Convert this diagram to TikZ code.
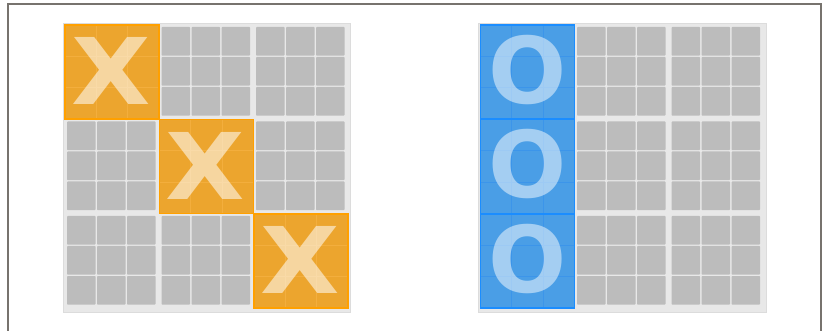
\documentclass[tikz,border=0pt]{standalone}
\usepackage{fontspec}
\newfontfamily\letterfont{DejaVu Sans}[BoldFont={DejaVu Sans Bold}]
\usetikzlibrary{positioning}
\definecolor{FrameGrey}{HTML}{77736E}
\definecolor{BoardBg}{HTML}{E8E8E8}
\definecolor{BoardEdge}{HTML}{DCDCDC}
\definecolor{CellGrey}{HTML}{BCBCBC}
\definecolor{OrangeFill}{HTML}{ECA52E}
\definecolor{OrangeLine}{HTML}{F3AE3D}
\definecolor{OrangeEdge}{HTML}{FFA000}
\definecolor{BlueFill}{HTML}{4A9EE6}
\definecolor{BlueLine}{HTML}{3C95EA}
\definecolor{BlueEdge}{HTML}{1B8DFF}

\tikzset{
  board/.style={fill=BoardBg,draw=BoardEdge,line width=1},
  greycell/.style={fill=CellGrey,rounded corners=0.8},
  letter/.style={inner sep=0pt,text opacity=0.55,text=white,
    font=\letterfont\bfseries\fontsize{92}{92}\selectfont}
}

\begin{document}
\begin{tikzpicture}[x=1pt,y=-1pt]
\useasboundingbox (0,0) rectangle (822,331);
% frame
\draw[FrameGrey,line width=2] (8,331) -- (8,4) -- (821,4) -- (821,331);
% the two boards
\draw[board] (63,24) rectangle (350,312);
\draw[board] (478,24) rectangle (766,312);
% grey 3x3 blocks
\foreach \bx in {65,480.5}
  \foreach \c in {0,1,2}
    \foreach \r in {0,1,2}
      \foreach \i in {0,1,2}
        \foreach \j in {0,1,2}
          \fill[greycell] (\bx+94.5*\c+2+30*\i,25+94.5*\r+2+30*\j) rectangle ++(28.6,28.6);
% X cells
\foreach \c/\n in {0/1,1/2,2/3} {
  \fill[OrangeFill] (65+94.5*\c,25+94.5*\c) rectangle ++(94,94);
  \foreach \k in {1,2} {
    \draw[OrangeLine,line width=1] (65+94.5*\c+31.3*\k,25+94.5*\c) -- ++(0,94);
    \draw[OrangeLine,line width=1] (65+94.5*\c,25+94.5*\c+31.3*\k) -- ++(94,0);
  }
  \draw[OrangeEdge,line width=1.5] (65+94.5*\c,25+94.5*\c) rectangle ++(94,94);
  \node[letter] (x\n) at (65+94.5*\c+46,25+94.5*\c+46) {\scalebox{1.12}[1]{X}};
}
% O cells
\foreach \r/\n in {0/1,1/2,2/3} {
  \fill[BlueFill] (480.5,25+94.5*\r) rectangle ++(94,94);
  \foreach \k in {1,2} {
    \draw[BlueLine,line width=1] (480.5+31.3*\k,25+94.5*\r) -- ++(0,94);
    \draw[BlueLine,line width=1] (480.5,25+94.5*\r+31.3*\k) -- ++(94,0);
  }
  \draw[BlueEdge,line width=1.5] (480.5,25+94.5*\r) rectangle ++(94,94);
  \node[letter,text opacity=0.5] (o\n) at (527.5,25+94.5*\r+45) {O};
}
\end{tikzpicture}
\end{document}
